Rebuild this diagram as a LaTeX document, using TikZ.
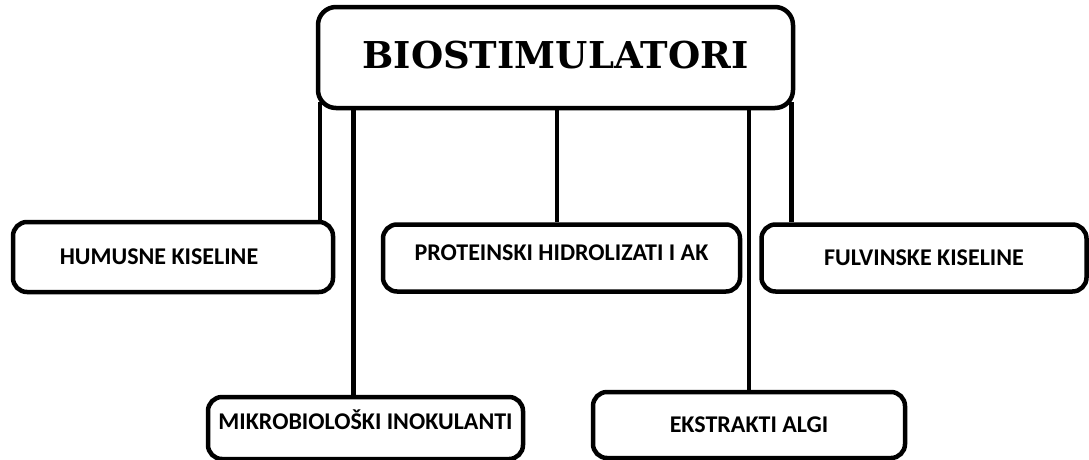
\documentclass[tikz,border=0pt]{standalone}
\usepackage{fontspec}
\setmainfont{Carlito}
\newfontfamily\slabfont{DejaVu Serif}
\usepackage{tikz}
\usetikzlibrary{positioning,calc}
\tikzstyle{box} = [draw, rectangle, rounded corners=14pt, line width=4.5pt,
    fill=white, text=black, align=center, inner sep=0pt,
    font=\bfseries\fontsize{24}{24}\selectfont]
\tikzstyle{topbox} = [box, rounded corners=18pt,
    font=\slabfont\bfseries\fontsize{37}{37}\selectfont]
\tikzstyle{line} = [draw, line width=4.5pt]

\begin{document}
\begin{tikzpicture}[x=1pt, y=-1pt]
    \useasboundingbox (0,0) rectangle (1089,459);
    \node [topbox, minimum width=475pt, minimum height=101pt, text depth=6pt] (bio) at (555.5,57.5) {BIOSTIMULATORI};

    \node [box, minimum width=320pt, minimum height=70pt] (hum) at (173,257) {\hspace*{-28pt}HUMUSNE KISELINE};
    \node [box, minimum width=357pt, minimum height=67pt, text depth=10pt] (prot) at (561.5,258) {PROTEINSKI HIDROLIZATI I AK};
    \node [box, minimum width=325pt, minimum height=67pt] (fulv) at (924,258) {FULVINSKE KISELINE};
    \node [box, minimum width=315pt, minimum height=62pt, text depth=16pt] (mikro) at (365.5,428) {MIKROBIOLOŠKI INOKULANTI};
    \node [box, minimum width=312pt, minimum height=66pt] (ekstr) at (749,425) {EKSTRAKTI ALGI};

%    connectors from the top box
    \draw [line] ([xshift=4pt,yshift=8pt]bio.south west) -- ([xshift=4pt]bio.south west |- hum.north);
    \draw [line] ([xshift=-12pt]mikro.north |- bio.south) -- ([xshift=-12pt]mikro.north);
    \draw [line] ([xshift=-4.5pt]prot.north |- bio.south) -- ([xshift=-4.5pt]prot.north);
    \draw [line] (ekstr.north |- bio.south) -- (ekstr.north);
    \draw [line] ([xshift=-4pt,yshift=8pt]bio.south east) -- ([xshift=-4pt]bio.south east |- fulv.north);
\end{tikzpicture}
\end{document}
